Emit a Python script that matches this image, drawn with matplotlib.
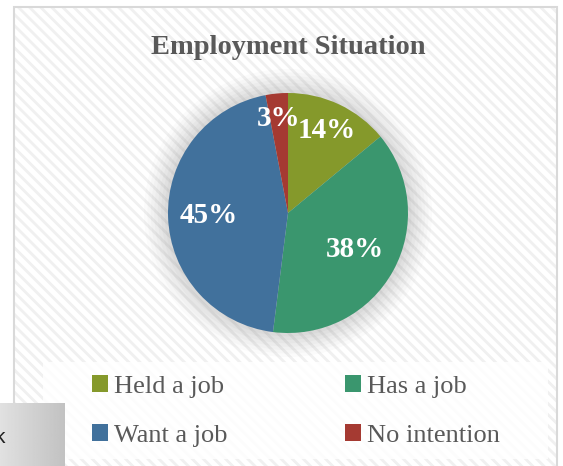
import matplotlib.pyplot as plt
from matplotlib.patches import Rectangle, Circle
import numpy as np

# data
labels = ['Held a job', 'Has a job', 'Want a job', 'No intention']
shares = [14, 38, 45, 3]
colors = ['#85992b', '#3a966e', '#41719c', '#a53a32']
title = 'Employment Situation'

# radial placement of the percentage labels (fraction of radius)
label_dist = [0.76, 0.64, 0.66, 0.79]

W, H = 563, 466
fig = plt.figure(figsize=(W / 100, H / 100), dpi=100)
fig.patch.set_facecolor('white')

def fx(px):
    return px / W

def fy(py):
    return 1 - py / H

# chart area with diagonal hatch
plt.rcParams['hatch.linewidth'] = 2.0
bg = Rectangle((fx(14), 0), fx(557) - fx(14), fy(7), transform=fig.transFigure,
               facecolor='white', edgecolor='#f0f0f0', hatch='\\\\\\', lw=0, zorder=-3)
fig.patches.append(bg)
border = Rectangle((fx(14), -0.01), fx(557) - fx(14), fy(7) + 0.01, transform=fig.transFigure,
                   facecolor='none', edgecolor='#d9d9d9', lw=1.5, zorder=-2)
fig.patches.append(border)
# legend white box
lbox = Rectangle((fx(43), fy(459)), fx(548) - fx(43), fy(362) - fy(459), transform=fig.transFigure,
                 facecolor='white', edgecolor='none', alpha=0.85, zorder=-2)
fig.patches.append(lbox)

fig.text(0.5115, fy(47), title, ha='center', va='center', fontsize=20.5,
         fontweight='bold', color='#595959', family='Liberation Serif')

# pie
R = 120
pad = 1.3
ax = fig.add_axes([fx(288 - R * pad), fy(213 + R * pad), fx(2 * R * pad), 2 * R * pad / H])
ax.set_zorder(1)
ax.patch.set_alpha(0)

# soft shadow
for r, a in zip(np.linspace(1.2, 1.0, 8), np.linspace(0.03, 0.06, 8)):
    ax.add_patch(Circle((0, 0), r, facecolor='#808080', edgecolor='none', alpha=a, zorder=0))

wedges, texts, autotexts = ax.pie(shares, colors=colors, startangle=90, counterclock=False,
                                  autopct='%d%%', pctdistance=0.7, radius=1,
                                  wedgeprops=dict(linewidth=0),
                                  textprops=dict(color='white', fontsize=21, fontweight='bold',
                                                 family='Liberation Serif'))
for w in wedges:
    w.set_zorder(2)
for w, t, d in zip(wedges, autotexts, label_dist):
    ang = np.deg2rad((w.theta1 + w.theta2) / 2)
    t.set_position((d * np.cos(ang), d * np.sin(ang)))
    t.set_zorder(3)
ax.set_xlim(-pad, pad)
ax.set_ylim(-pad, pad)
ax.set_aspect('equal')
ax.axis('off')

# legend filled row by row like the reference
handles = [Rectangle((0, 0), 1, 1, facecolor=c, edgecolor='none') for c in colors]
order = [0, 2, 1, 3]
fig.legend([handles[i] for i in order], [labels[i] for i in order], ncol=2, loc='center',
           bbox_to_anchor=(fx(296), fy(411)),
           frameon=False, prop=dict(family='Liberation Serif', size=19),
           labelcolor='#595959', handlelength=0.6, handleheight=0.6,
           handletextpad=0.25, columnspacing=4.45, labelspacing=1.0)

# grey box overlapping bottom-left corner
gax = fig.add_axes([0, 0, fx(65), 63 / H])
gax.set_zorder(2)
grad = np.linspace(0.88, 0.76, 50).reshape(1, -1)
gax.imshow(grad, cmap='gray', vmin=0, vmax=1, aspect='auto', extent=(0, 1, 0, 1))
gax.set_xlim(0, 1)
gax.set_ylim(0, 1)
gax.axis('off')
gax.text(0.08, 0.45, 'k', ha='right', va='center', fontsize=15, color='#222222',
         family='Liberation Sans')

fig.savefig('out.png', dpi=100)
